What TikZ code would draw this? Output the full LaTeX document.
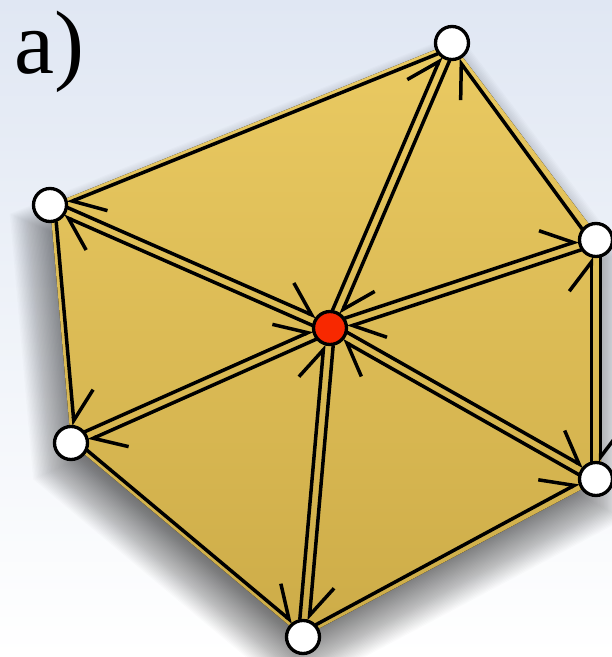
\documentclass[tikz,border=0pt]{standalone}
\usepackage{fontspec}
\newfontfamily\labfont{Liberation Serif}
\usetikzlibrary{calc,arrows.meta}
\definecolor{bgtop}{RGB}{224,231,243}
\definecolor{goldtop}{RGB}{234,202,98}
\definecolor{goldbot}{RGB}{205,172,72}
\definecolor{redv}{RGB}{248,40,0}
\tikzset{
  vtx/.style={circle, draw=black, line width=3.3pt, fill=white, minimum size=33pt, inner sep=0pt},
  ctr/.style={vtx, fill=redv},
  halfedge/.style={draw=black, line width=3.5pt, shorten <=17pt, shorten >=17pt,
    -{Straight Barb[left, length=29pt, width=44pt]}},
  shadowlayer/.style={fill=black, fill opacity=0.016},
}
\newcommand{\halfedge}[2]{\draw[halfedge] ($(#1)!4.7pt!90:(#2)$) -- ($(#2)!4.7pt!-90:(#1)$);}
\newcommand{\facepoly}{(271,88) -- (122,285) -- (-280,123) -- (-259,-115) -- (-27,-309) -- (271,-151) -- cycle}
\begin{document}
\begin{tikzpicture}[x=1pt,y=1pt]
\useasboundingbox (0,0) rectangle (612,657);
\shade[top color=bgtop, bottom color=white] (0,0) rectangle (612,657);
\coordinate (C) at (330,329);
\coordinate (Vr) at (596,417);
\coordinate (Vt) at (452,614);
\coordinate (Vtl) at (50,452);
\coordinate (Vbl) at (71,214);
\coordinate (Vb) at (303,20);
\coordinate (Vbr) at (596,178);
% soft shadow: stacked scaled copies
\foreach \s in {0.885,0.89,...,1.12}{
  \begin{scope}[shift={(322,306)}, scale=\s]
    \path[shadowlayer] \facepoly;
  \end{scope}
}
% gold face
\begin{scope}[shift={(C)}]
  \fill[top color=goldtop, bottom color=goldbot] \facepoly;
\end{scope}
% half-edges of the six faces (counter-clockwise)
\foreach \a/\b in {Vr/Vt, Vt/Vtl, Vtl/Vbl, Vbl/Vb, Vb/Vbr, Vbr/Vr}{
  \halfedge{C}{\a}
  \halfedge{\a}{\b}
  \halfedge{\b}{C}
}
% half-edge of the neighbouring face on the right
\halfedge{Vr}{Vbr}
% vertices
\node[ctr] (nC) at (C) {};
\foreach \v in {Vr,Vt,Vtl,Vbl,Vb,Vbr}{\node[vtx] (n\v) at (\v) {};}
\node[anchor=base west, inner sep=0pt, font=\labfont\fontsize{90}{90}\selectfont] (lab) at (14,583) {a)};
\end{tikzpicture}
\end{document}
